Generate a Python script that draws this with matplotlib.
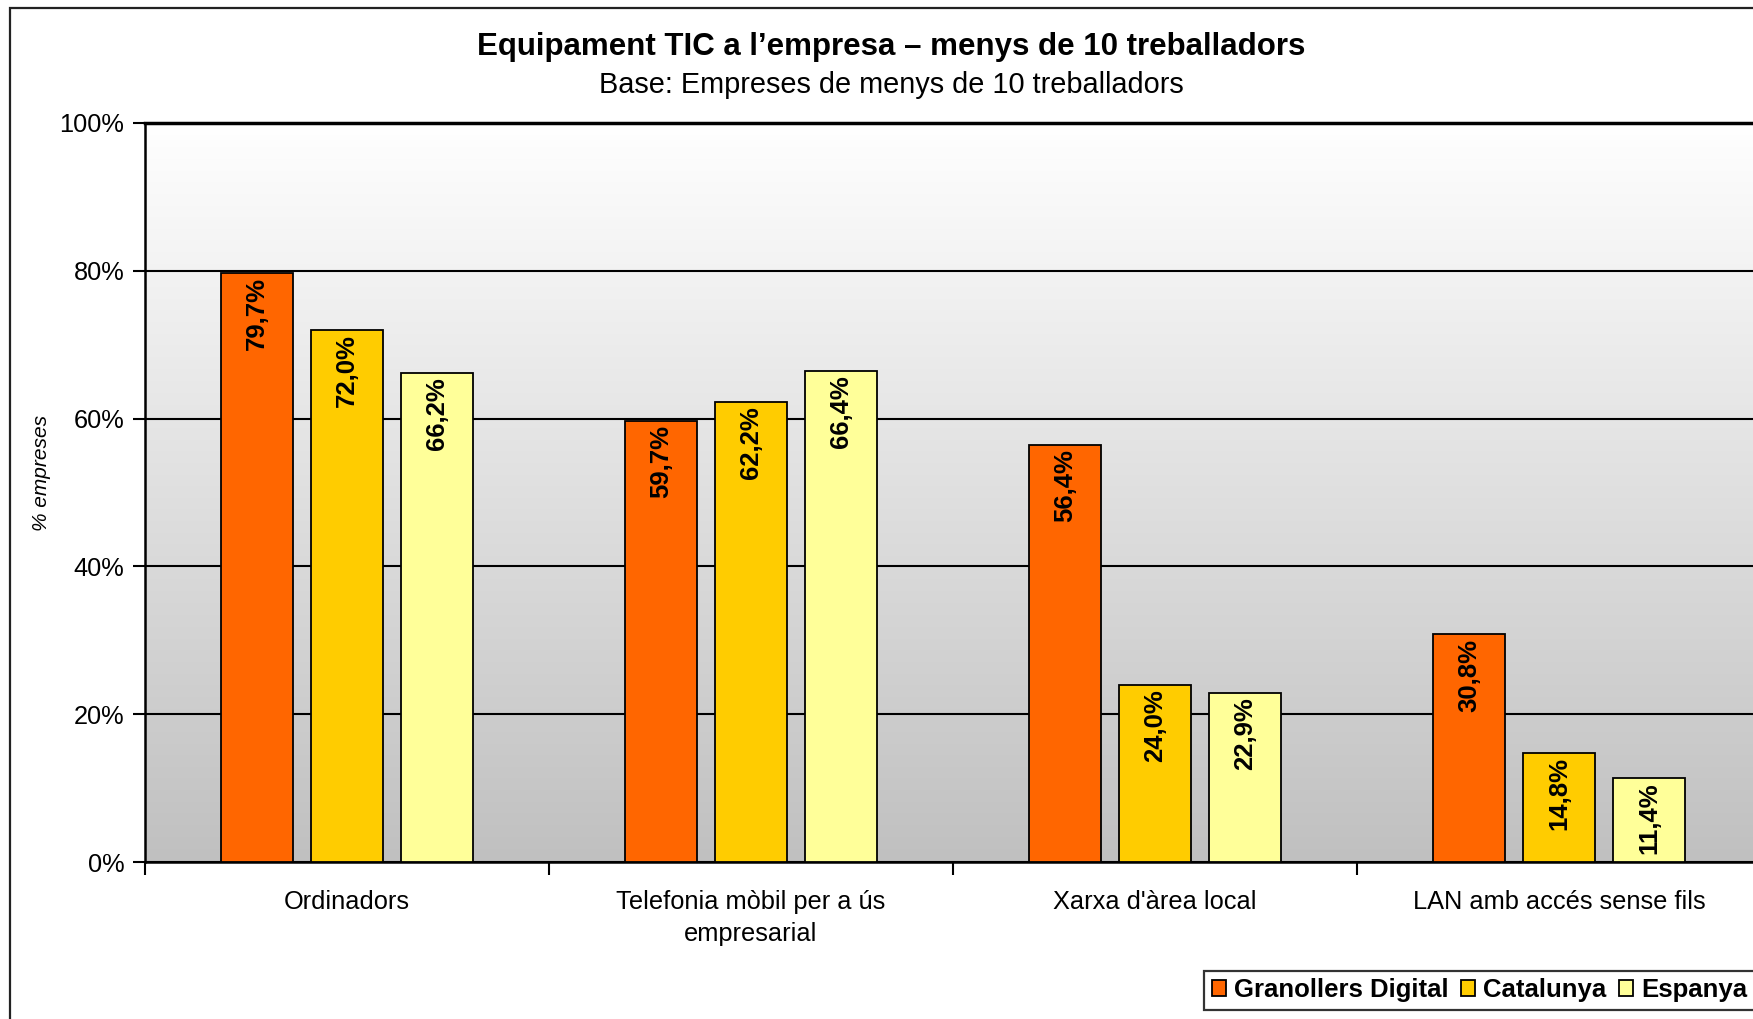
import numpy as np
import matplotlib
matplotlib.use("Agg")
import matplotlib.pyplot as plt
from matplotlib.colors import LinearSegmentedColormap
from matplotlib.patches import Rectangle

plt.rcParams['font.family'] = ['Liberation Sans', 'DejaVu Sans']

# dades
categories = ["Ordinadors", "Telefonia mòbil per a ús\nempresarial",
              "Xarxa d'àrea local", "LAN amb accés sense fils"]
series = ["Granollers Digital", "Catalunya", "Espanya"]
granollers = [79.7, 59.7, 56.4, 30.8]
catalunya = [72.0, 62.2, 24.0, 14.8]
espanya = [66.2, 66.4, 22.9, 11.4]
colors = ["#ff6600", "#ffcc00", "#ffff99"]
yticks = [0, 20, 40, 60, 80, 100]

W, H = 1753, 1019
fig = plt.figure(figsize=(W / 100, H / 100), dpi=100)

# marc exterior del gràfic
fig.patches.append(Rectangle((10 / W, -0.1), 1.2, 1.1 - 8 / H, transform=fig.transFigure,
                             fill=False, edgecolor="#222222", linewidth=1.6))

ax = fig.add_axes([145 / W, 1 - 862 / H, 1616 / W, 739 / H])

# fons degradat
cmap = LinearSegmentedColormap.from_list("bg", ["#c0c0c0", "#ffffff"])
grad = np.linspace(0, 1, 256).reshape(-1, 1)
ax.imshow(grad, extent=[-0.5, 3.5, 0, 100], aspect="auto", cmap=cmap,
          origin="lower", zorder=0)

x = np.arange(len(categories))
off = 0.223
w = 0.18
for i, (vals, name) in enumerate(zip([granollers, catalunya, espanya], series)):
    bars = ax.bar(x + (i - 1) * off, vals, w, color=colors[i], edgecolor="black",
                  linewidth=1.3, label=name, zorder=3)
    for b, v in zip(bars, vals):
        ax.annotate(f"{v:.1f}%".replace(".", ","),
                    (b.get_x() + b.get_width() / 2, v), xytext=(0, -3),
                    textcoords="offset points", rotation=90, ha="center", va="top",
                    fontsize=18.5, fontweight="bold", zorder=4)

ax.set_xlim(-0.5, 3.5)
ax.set_ylim(0, 100)
ax.set_yticks(yticks)
ax.set_yticklabels([f"{t}%" for t in yticks], fontsize=18.3)
ax.yaxis.grid(True, color="black", linewidth=1.5, zorder=1)
ax.set_axisbelow(True)

ax.set_xticks(np.arange(-0.5, 4, 1))
ax.set_xticklabels([])
ax.set_xticks(x, minor=True)
ax.set_xticklabels(categories, minor=True, fontsize=18.3, linespacing=1.45)
ax.tick_params(axis="x", which="major", length=9, width=1.5, direction="out")
ax.tick_params(axis="x", which="minor", length=0, pad=20)
ax.tick_params(axis="y", length=9, width=1.5, pad=6)

for s in ["left", "bottom"]:
    ax.spines[s].set_linewidth(1.8)
ax.spines["top"].set_linewidth(2.5)
ax.spines["right"].set_visible(False)

ax.set_ylabel("% empreses", fontsize=15, style="italic")
ax.yaxis.set_label_coords(-0.058, 0.526)

fig.text(891 / W, 1 - 47 / H, "Equipament TIC a l’empresa – menys de 10 treballadors",
         ha="center", va="center", fontsize=22.5, fontweight="bold")
fig.text(891 / W, 1 - 85 / H, "Base: Empreses de menys de 10 treballadors",
         ha="center", va="center", fontsize=20.8)

leg = fig.legend(loc="lower left", bbox_to_anchor=(1204 / W, 9 / H), ncol=3,
                 prop={"size": 18.5, "weight": "bold"}, frameon=True, fancybox=False,
                 edgecolor="black", handlelength=0.55, handleheight=0.55,
                 handletextpad=0.3, columnspacing=0.5, borderpad=0.3,
                 borderaxespad=0)
leg.get_frame().set_linewidth(1.6)

fig.savefig("out.png", dpi=100)
